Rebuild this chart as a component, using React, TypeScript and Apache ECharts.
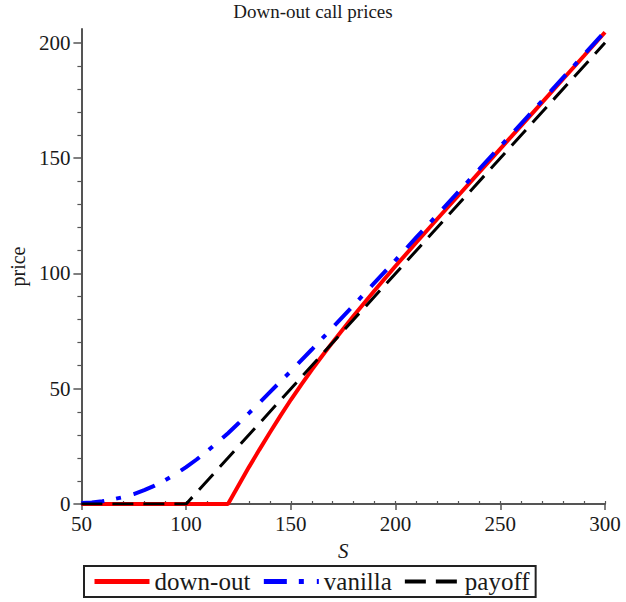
import React, { useEffect, useRef } from "react";
import * as echarts from "echarts";

// ---- data ----
const vanillaS = [50, 55, 60, 65, 70, 75, 80, 85, 90, 95, 100, 105, 110, 115, 120, 125, 130, 135, 140, 145, 150, 160, 170, 180, 190, 200, 210, 220, 230, 240, 250, 260, 270, 280, 290, 300];
const vanillaP = [0.4, 0.7, 1.2, 2.0, 3.0, 4.3, 6.0, 8.0, 10.3, 13.0, 16.0, 19.3, 22.9, 26.7, 30.7, 35.0, 39.4, 43.9, 48.5, 53.1, 57.6, 67.0, 76.6, 86.2, 96.0, 105.8, 115.7, 125.5, 135.4, 145.2, 155.1, 165.0, 174.9, 184.9, 194.9, 204.9];

const downOutS = [50, 120, 122.5, 125, 130, 135, 140, 145, 150, 155, 160, 165, 170, 180, 190, 200, 210, 220, 230, 240, 250, 260, 270, 280, 290, 300];
const downOutP = [0, 0, 4, 8, 16, 23.6, 31, 38.2, 45.2, 51.8, 58.2, 64.3, 70.2, 81.6, 92.6, 103.2, 113.5, 123.7, 133.8, 143.9, 154, 164.1, 174.2, 184.3, 194.4, 204.6];

const payoffS = [50, 100, 300];
const payoffP = [0, 0, 200];

const seriesNames = ["down-out", "vanilla", "payoff"];
const xMajor = [50, 100, 150, 200, 250, 300];
const xMinor = [50, 60, 70, 80, 90, 100, 110, 120, 130, 140, 150, 160, 170, 180, 190, 200, 210, 220, 230, 240, 250, 260, 270, 280, 290, 300];
const yMajor = [0, 50, 100, 150, 200];
const yMinor = [10, 20, 30, 40, 60, 70, 80, 90, 110, 120, 130, 140, 160, 170, 180, 190];

const FONT = "Liberation Serif";
const TXT = "#1a1a1a";
const AX = "#555";

const pairs = (xs: number[], ys: number[]) => xs.map((x, i) => [x, ys[i]]);

export default function App() {
  const ref = useRef<HTMLDivElement>(null);
  useEffect(() => {
    if (!ref.current) return;
    const chart = echarts.init(ref.current, undefined, { renderer: "svg" });
    chart.setOption({
      animation: false,
      backgroundColor: "#fff",
      title: {
        text: "Down-out call prices",
        left: "center",
        top: -3,
        textStyle: { fontFamily: FONT, fontSize: 19, fontWeight: "normal", color: TXT },
      },
      grid: { left: 76, right: 21, top: 29, bottom: 98 },
      xAxis: [
        {
          type: "value",
          min: 50,
          max: 300,
          interval: 50,
          name: "S",
          nameLocation: "middle",
          nameGap: 36,
          nameTextStyle: { fontFamily: FONT, fontStyle: "italic", fontSize: 21, color: TXT },
          axisLine: { show: true, onZero: false, lineStyle: { color: AX, width: 2 } },
          axisTick: { show: true, length: 6, customValues: xMajor, lineStyle: { color: AX, width: 1.5 } },
          axisLabel: { fontFamily: FONT, fontSize: 21, color: TXT, margin: 9 },
          splitLine: { show: false },
        },
        {
          type: "value",
          min: 50,
          max: 300,
          position: "bottom",
          axisLine: { show: false },
          axisTick: { show: true, inside: true, length: 3, customValues: xMinor, lineStyle: { color: AX, width: 1.2 } },
          axisLabel: { show: false },
          splitLine: { show: false },
        },
      ],
      yAxis: [
        {
          type: "value",
          min: 0,
          max: 206,
          name: "price",
          nameLocation: "middle",
          nameGap: 48,
          nameRotate: 90,
          nameTextStyle: { fontFamily: FONT, fontSize: 20, color: TXT },
          axisLine: { show: true, onZero: false, lineStyle: { color: AX, width: 2 } },
          axisTick: { show: true, length: 8, customValues: yMajor, lineStyle: { color: AX, width: 1.5 } },
          axisLabel: { customValues: yMajor, fontFamily: FONT, fontSize: 21, color: TXT, margin: 11 },
          splitLine: { show: false },
        },
        {
          type: "value",
          min: 0,
          max: 206,
          position: "left",
          axisLine: { show: false },
          axisTick: { show: true, length: 4, customValues: yMinor, lineStyle: { color: AX, width: 1.2 } },
          axisLabel: { show: false },
          splitLine: { show: false },
        },
      ],
      legend: {
        data: [
          { name: seriesNames[0], lineStyle: { width: 5 } },
          { name: seriesNames[1], lineStyle: { width: 5 } },
          { name: seriesNames[2], lineStyle: { width: 4 } },
        ],
        left: 84,
        top: 566,
        orient: "horizontal",
        itemWidth: 55,
        itemHeight: 14,
        itemGap: 11,
        padding: [3, 6, 3, 8],
        borderColor: "#222",
        borderWidth: 2,
        backgroundColor: "#fff",
        itemStyle: { opacity: 0 },
        textStyle: { fontFamily: FONT, fontSize: 25, color: TXT },
      },
      series: [
        {
          name: seriesNames[0],
          type: "line",
          symbol: "none",
          data: pairs(downOutS, downOutP),
          lineStyle: { color: "#ff0000", width: 4 },
          itemStyle: { color: "#ff0000" },
        },
        {
          name: seriesNames[1],
          type: "line",
          symbol: "none",
          data: pairs(vanillaS, vanillaP),
          lineStyle: { color: "#0000ff", width: 4, type: [23, 12, 5, 13] },
          itemStyle: { color: "#0000ff" },
        },
        {
          name: seriesNames[2],
          type: "line",
          symbol: "none",
          data: pairs(payoffS, payoffP),
          lineStyle: { color: "#000000", width: 3, type: [21, 10] },
          itemStyle: { color: "#000000" },
        },
      ],
    });
    return () => chart.dispose();
  }, []);
  return <div ref={ref} style={{ width: 626, height: 602, position: "absolute", left: 0, top: 0 }} />;
}
